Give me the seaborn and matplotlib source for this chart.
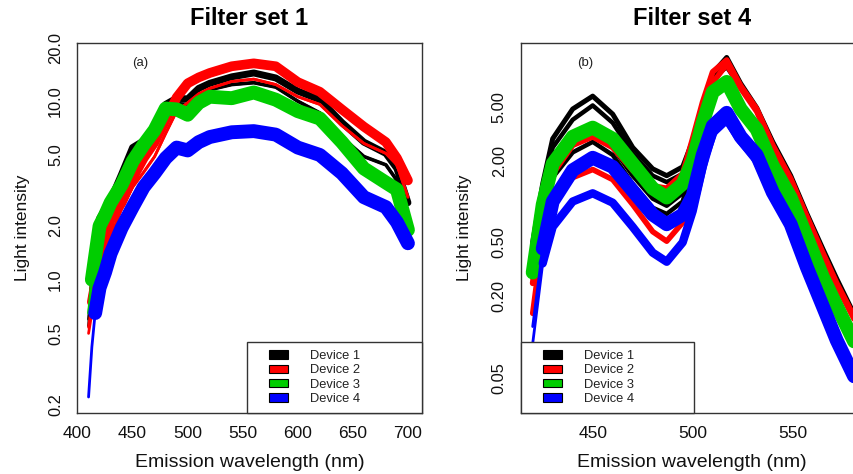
import numpy as np
import pandas as pd
import matplotlib
matplotlib.use("Agg")
import matplotlib.pyplot as plt
import matplotlib.patches as mpatches
from matplotlib.legend_handler import HandlerPatch
from matplotlib.ticker import FixedLocator, FixedFormatter, NullLocator
import seaborn as sns

sns.set_theme(style="white")
plt.rcParams["font.family"] = ["Liberation Sans", "DejaVu Sans"]

# ---------------- data ----------------
devices = ["Device 1", "Device 2", "Device 3", "Device 4"]
colors = ["#000000", "#ff0000", "#00cd00", "#0000ff"]

# Panel (a): Filter set 1
wl_a = [410, 413, 416, 420, 425, 430, 440, 450, 460, 470, 480, 490, 500, 510,
        520, 540, 560, 580, 600, 620, 640, 660, 680, 690, 700]
a_dev1_hi = [0.6, 1.1, 1.6, 2.2, 2.5, 2.8, 3.9, 5.5, 6.0, 7.2, 9.6, 10.4, 10.3, 11.8,
             12.6, 13.7, 14.4, 13.5, 11.4, 10.2, 7.6, 5.9, 5.1, 4.2, 2.7]
a_dev1_lo = [0.55, 1.0, 1.5, 2.0, 2.3, 2.6, 3.6, 5.0, 5.6, 6.8, 9.0, 9.7, 9.6, 10.8,
             11.6, 12.4, 12.7, 12.0, 10.0, 8.6, 6.3, 4.9, 4.4, 3.6, 2.3]
a_dev2_hi = [0.54, 0.75, 0.95, 1.24, 1.7, 2.16, 2.7, 3.7, 4.8, 5.9, 7.85, 10.5, 12.6, 13.6,
             14.4, 15.7, 16.3, 15.7, 12.8, 11.3, 9.0, 7.2, 5.9, 4.8, 3.6]
a_dev2_lo = [0.5, 0.65, 0.8, 1.05, 1.4, 1.74, 2.5, 3.3, 4.0, 4.9, 6.6, 8.8, 9.8, 11.0,
             11.8, 12.9, 13.3, 12.4, 10.6, 9.6, 7.3, 5.8, 5.1, 4.4, 2.9]
a_dev3 = [0.65, 1.0, 1.35, 2.0, 2.3, 2.7, 3.4, 4.6, 5.7, 6.9, 9.1, 9.0, 8.4, 9.8,
          10.6, 10.4, 11.2, 10.2, 8.8, 8.0, 5.9, 4.2, 3.5, 3.2, 1.9]
a_dev4 = [0.22, 0.42, 0.65, 0.9, 1.1, 1.4, 1.95, 2.55, 3.3, 3.95, 4.8, 5.5, 5.3, 5.9,
          6.3, 6.7, 6.8, 6.5, 5.5, 5.0, 3.95, 2.9, 2.55, 2.1, 1.6]

# Panel (b): Filter set 4
wl_b = [420, 425, 430, 440, 450, 460, 470, 480, 487, 495, 500, 505, 510, 517,
        524, 532, 540, 549, 557, 565, 572, 582]
b_dev1_1 = [0.5, 1.35, 2.9, 4.8, 5.97, 4.4, 2.5, 1.74, 1.55, 1.8, 2.8, 5.2, 8.8, 11.5,
            7.4, 4.9, 2.75, 1.55, 0.82, 0.45, 0.27, 0.135]
b_dev1_2 = [0.45, 1.2, 2.5, 4.0, 5.1, 3.8, 2.25, 1.55, 1.39, 1.6, 2.6, 4.8, 8.0, 9.8,
            6.9, 4.7, 2.6, 1.5, 0.78, 0.44, 0.26, 0.13]
b_dev1_3 = [0.35, 0.9, 1.7, 2.6, 3.15, 2.5, 1.55, 1.05, 0.93, 1.15, 2.0, 4.2, 7.8, 10.6,
            7.2, 4.8, 2.7, 1.52, 0.8, 0.44, 0.265, 0.132]
b_dev1_4 = [0.3, 0.8, 1.5, 2.3, 2.75, 2.2, 1.35, 0.9, 0.81, 1.0, 1.9, 4.0, 7.6, 10.4,
            7.0, 4.7, 2.65, 1.5, 0.79, 0.43, 0.26, 0.13]
b_dev2_1 = [0.25, 0.8, 1.6, 2.6, 3.0, 2.5, 1.7, 1.3, 1.25, 1.6, 2.9, 5.4, 9.0, 11.0,
            7.1, 4.8, 2.6, 1.47, 0.78, 0.42, 0.25, 0.13]
b_dev2_2 = [0.15, 0.55, 1.0, 1.5, 1.72, 1.45, 0.95, 0.6, 0.51, 0.7, 1.4, 3.4, 7.5, 10.2,
            6.8, 4.6, 2.5, 1.42, 0.75, 0.4, 0.24, 0.125]
b_dev3 = [0.3, 0.95, 1.9, 3.0, 3.5, 2.9, 1.9, 1.25, 1.07, 1.35, 2.0, 3.8, 6.4, 7.6,
          4.8, 3.4, 1.84, 1.07, 0.55, 0.28, 0.17, 0.085]
b_dev4_1 = [0.12, 0.45, 1.0, 1.7, 2.1, 1.8, 1.2, 0.8, 0.68, 0.8, 1.1, 2.2, 3.6, 4.5,
            3.0, 2.2, 1.17, 0.68, 0.33, 0.17, 0.095, 0.047]
b_dev4_2 = [0.09, 0.35, 0.65, 1.0, 1.15, 0.98, 0.65, 0.42, 0.36, 0.5, 0.85, 1.8, 3.2, 4.0,
            2.8, 2.0, 1.1, 0.64, 0.31, 0.16, 0.09, 0.045]

ticks_a_x = [400, 450, 500, 550, 600, 650, 700]
ticks_a_y = [0.2, 0.5, 1.0, 2.0, 5.0, 10.0, 20.0]
labels_a_y = ["0.2", "0.5", "1.0", "2.0", "5.0", "10.0", "20.0"]
ticks_b_x = [450, 500, 550]
ticks_b_y = [0.05, 0.1, 0.2, 0.5, 1.0, 2.0, 5.0, 10.0]
labels_b_y = ["0.05", "", "0.20", "0.50", "", "2.00", "5.00", ""]

# (device index, values, thick linewidth, index where the thick stroke starts)
curves_a = [(0, a_dev1_hi, 5.0, 1), (0, a_dev1_lo, 2.6, 1),
            (1, a_dev2_hi, 7.0, 1), (1, a_dev2_lo, 2.0, 1),
            (2, a_dev3, 10.0, 1), (3, a_dev4, 10.0, 2)]
curves_b = [(0, b_dev1_1, 3.6, 0), (0, b_dev1_2, 3.2, 0), (0, b_dev1_3, 3.2, 0),
            (0, b_dev1_4, 3.2, 0),
            (1, b_dev2_1, 4.2, 0), (1, b_dev2_2, 4.0, 0),
            (2, b_dev3, 10.0, 0), (3, b_dev4_1, 10.0, 1), (3, b_dev4_2, 6.0, 1)]

# ---------------- figure ----------------
fig = plt.figure(figsize=(8.54, 4.74), dpi=100)
axA = fig.add_axes([77 / 854, 1 - 413 / 474, 344.7 / 854, 370 / 474])
axB = fig.add_axes([520.7 / 854, 1 - 413 / 474, 342 / 854, 370 / 474])

spine_col = "#333333"


def draw(ax, wl, curves):
    for d, vals, lw, k0 in curves:
        df = pd.DataFrame({"wl": wl, "val": vals})
        sns.lineplot(data=df, x="wl", y="val", ax=ax, color=colors[d], lw=2.0,
                     estimator=None, sort=False)
        sns.lineplot(data=df.iloc[k0:], x="wl", y="val", ax=ax, color=colors[d], lw=lw,
                     estimator=None, sort=False, solid_capstyle="round")


def rect_func(legend, orig_handle, xdescent, ydescent, width, height, fontsize):
    return mpatches.Rectangle((-xdescent + 0.43 * width, -ydescent), 0.57 * width, height)


def style(ax, xlim, ylim, xt, yt, ylab, title, tag, tagx, legx, legw):
    ax.set_yscale("log")
    ax.set_xlim(*xlim)
    ax.set_ylim(*ylim)
    ax.xaxis.set_major_locator(FixedLocator(xt))
    ax.yaxis.set_major_locator(FixedLocator(yt))
    ax.yaxis.set_major_formatter(FixedFormatter(ylab))
    ax.yaxis.set_minor_locator(NullLocator())
    ax.tick_params(axis="both", which="major", direction="out", length=6, width=1,
                   color=spine_col, labelcolor="#111111")
    ax.tick_params(axis="x", labelsize=12.5, pad=3)
    ax.tick_params(axis="y", labelsize=11.8, pad=4, labelrotation=90)
    for lab in ax.get_yticklabels():
        lab.set_va("center")
    for s in ax.spines.values():
        s.set_color(spine_col)
        s.set_linewidth(1.0)
    ax.set_xlabel("Emission wavelength (nm)", fontsize=14, color="#111111")
    ax.set_ylabel("Light intensity", fontsize=12.5, color="#111111")
    ax.xaxis.label.set_va("center")
    ax.set_title(title, fontsize=17, fontweight="bold", pad=13, color="#000000")
    ax.text(tagx, 0.946, tag, transform=ax.transAxes, fontsize=9.5,
            ha="center", va="center", color="#222222")
    handles = [mpatches.Patch(facecolor=c, edgecolor="black", lw=0.8, label=d)
               for c, d in zip(colors, devices)]
    leg = ax.legend(handles=handles, loc="lower left",
                    bbox_to_anchor=(legx, 0.0, legw, 0.2), mode="expand",
                    borderaxespad=0, borderpad=0.62, handlelength=2.57,
                    handleheight=0.62, handletextpad=1.7, labelspacing=0.18,
                    fontsize=9.3, frameon=True, fancybox=False, framealpha=1,
                    edgecolor=spine_col,
                    handler_map={mpatches.Patch: HandlerPatch(patch_func=rect_func)})
    leg.get_frame().set_linewidth(1.0)
    for t in leg.get_texts():
        t.set_color("#222222")


draw(axA, wl_a, curves_a)
draw(axB, wl_b, curves_b)

style(axA, (399.5, 712.5), (0.179, 21.2), ticks_a_x, ticks_a_y, labels_a_y,
      "Filter set 1", "(a)", 0.183, 170 / 344.7, 1 - 170 / 344.7)
style(axB, (414.0, 585.0), (0.0277, 14.7), ticks_b_x, ticks_b_y, labels_b_y,
      "Filter set 4", "(b)", 0.188, 0.0, 173.6 / 342)

axA.xaxis.set_label_coords(0.5, -0.134)
axB.xaxis.set_label_coords(0.5, -0.134)
axA.yaxis.set_label_coords(-0.135, 0.5)
axB.yaxis.set_label_coords(-0.141, 0.5)

fig.savefig("out.png", dpi=100)
